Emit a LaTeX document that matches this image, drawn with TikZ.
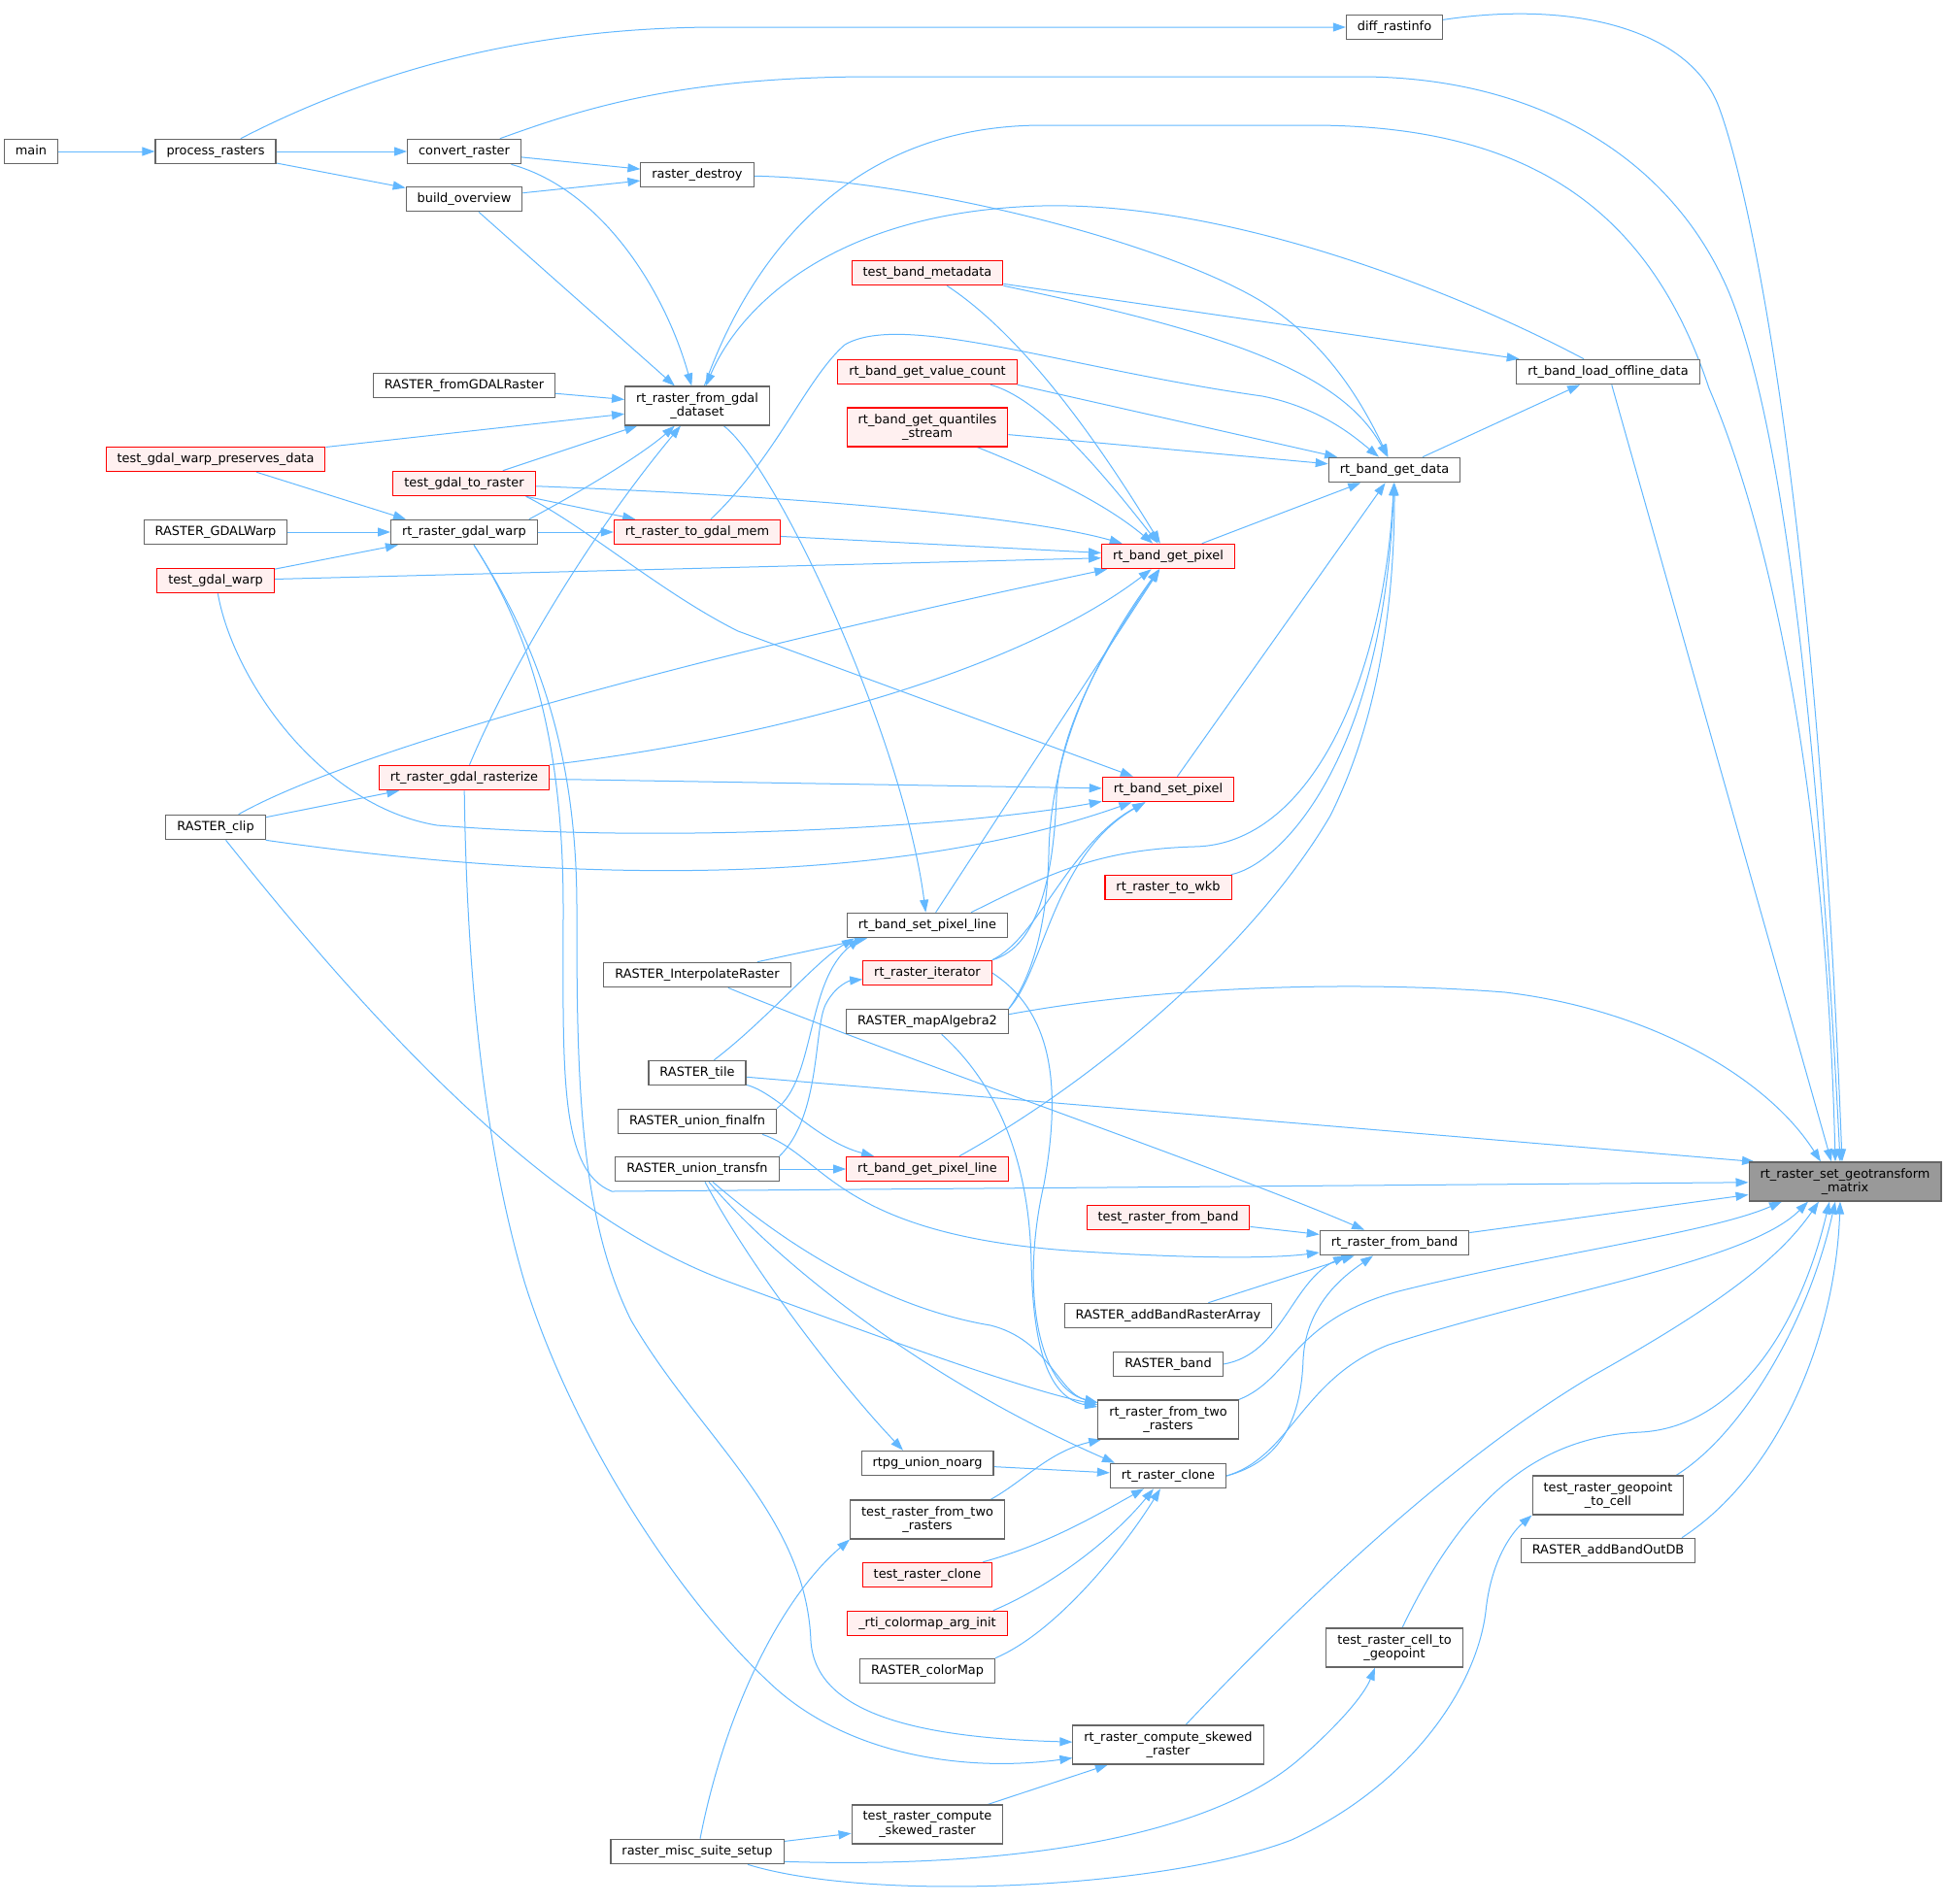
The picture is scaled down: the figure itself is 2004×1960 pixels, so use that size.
\documentclass[tikz,border=0pt]{standalone}
\usepackage{fontspec}
\newfontfamily\dvs{DejaVu Sans}
\usetikzlibrary{arrows.meta}
\pgfdeclarelayer{bg}
\pgfsetlayers{bg,main}
\definecolor{edgec}{HTML}{63B8FF}
\definecolor{bordc}{HTML}{666666}
\definecolor{redfill}{HTML}{FFF0F0}
\definecolor{tfill}{HTML}{999999}
\tikzset{
  box/.style={draw=bordc, fill=white, line width=1.1pt, inner xsep=11.5pt, inner ysep=0pt,
    font=\dvs\fontsize{12.9}{14.7}\selectfont},
  one/.style={box, minimum height=25.5pt, text height=9.8pt, text depth=3.4pt},
  two/.style={box, minimum height=40pt, align=center},
  hot/.style={draw=red, fill=redfill},
  tgt/.style={fill=tfill},
  e/.style={draw=edgec, line width=1pt, -{Triangle[length=13pt,width=9pt]}}
}
\begin{document}
\begin{tikzpicture}[x=1pt,y=-1pt]
\useasboundingbox (0,0) rectangle (2004,1960);
% nodes
\node[one] (main) at (32,156) {main};
\node[one] (pr) at (222,156) {process\_rasters};
\node[one] (diff) at (1436,28) {diff\_rastinfo};
\node[one] (conv) at (478,156) {convert\_raster};
\node[one] (bov) at (478,205) {build\_overview};
\node[one] (rdes) at (718,180) {raster\_destroy};
\node[one] (fromg) at (478,397) {RASTER\_fromGDALRaster};
\node[two] (fgd) at (718,418) {rt\_raster\_from\_gdal\\\_dataset};
\node[one,hot] (tgwpd) at (222,473) {test\_gdal\_warp\_preserves\_data};
\node[one,hot] (tgtr) at (478,498) {test\_gdal\_to\_raster};
\node[one] (gdw) at (222,548) {RASTER\_GDALWarp};
\node[one] (gwarp) at (478,548) {rt\_raster\_gdal\_warp};
\node[one,hot] (tgm) at (718,548) {rt\_raster\_to\_gdal\_mem};
\node[one,hot] (tgw) at (222,598) {test\_gdal\_warp};
\node[one,hot] (tbm) at (955,281) {test\_band\_metadata};
\node[one,hot] (gvc) at (955,383) {rt\_band\_get\_value\_count};
\node[two,hot] (gqs) at (955,440) {rt\_band\_get\_quantiles\\\_stream};
\node[one,hot] (gpix) at (1203,573) {rt\_band\_get\_pixel};
\node[one] (gdata) at (1436,484) {rt\_band\_get\_data};
\node[one] (lod) at (1656,383) {rt\_band\_load\_offline\_data};
\node[one,hot] (rast) at (478,801) {rt\_raster\_gdal\_rasterize};
\node[one] (clip) at (222,852) {RASTER\_clip};
\node[one] (interp) at (718,1004) {RASTER\_InterpolateRaster};
\node[one] (tile) at (718,1105) {RASTER\_tile};
\node[one] (ufin) at (718,1155) {RASTER\_union\_finalfn};
\node[one] (utra) at (718,1204) {RASTER\_union\_transfn};
\node[one,hot] (spix) at (1203,813) {rt\_band\_set\_pixel};
\node[one,hot] (wkb) at (1203,914) {rt\_raster\_to\_wkb};
\node[one] (spl) at (955,953) {rt\_band\_set\_pixel\_line};
\node[one,hot] (iter) at (955,1002) {rt\_raster\_iterator};
\node[one] (ma2) at (955,1052) {RASTER\_mapAlgebra2};
\node[one,hot] (gpl) at (955,1204) {rt\_band\_get\_pixel\_line};
\node[one,hot] (trfb) at (1203,1254) {test\_raster\_from\_band};
\node[two,tgt] (T) at (1900,1217) {rt\_raster\_set\_geotransform\\\_matrix};
\node[one] (fband) at (1436,1280) {rt\_raster\_from\_band};
\node[one] (abra) at (1203,1355) {RASTER\_addBandRasterArray};
\node[one] (rband) at (1203,1405) {RASTER\_band};
\node[two] (f2r) at (1203,1462) {rt\_raster\_from\_two\\\_rasters};
\node[one] (noarg) at (955,1507) {rtpg\_union\_noarg};
\node[one] (clone) at (1203,1520) {rt\_raster\_clone};
\node[two] (tf2r) at (955,1565) {test\_raster\_from\_two\\\_rasters};
\node[one,hot] (tclone) at (955,1622) {test\_raster\_clone};
\node[one,hot] (cmap) at (955,1672) {\_rti\_colormap\_arg\_init};
\node[one] (cmapr) at (955,1721) {RASTER\_colorMap};
\node[two] (skew) at (1203,1797) {rt\_raster\_compute\_skewed\\\_raster};
\node[two] (tskew) at (955,1879) {test\_raster\_compute\\\_skewed\_raster};
\node[one] (suite) at (718,1907) {raster\_misc\_suite\_setup};
\node[two] (tg2c) at (1656,1540) {test\_raster\_geopoint\\\_to\_cell};
\node[one] (aodb) at (1656,1597) {RASTER\_addBandOutDB};
\node[two] (tc2g) at (1436,1697) {test\_raster\_cell\_to\\\_geopoint};
% edges
\begin{pgfonlayer}{bg}
\draw[e] (main) -- (pr);
\draw[e] (pr) .. controls (360,85) and (520,28) .. (740,28) -- (diff);
\draw[e] (pr) -- (conv);
\draw[e] (pr) -- (bov);
\draw[e] (diff) .. controls (1620,0) and (1740,30) .. (1770,110) .. controls (1800,190) and (1870,500) .. ([xshift=-3pt]T.north);
\draw[e] (conv) .. controls (600,112) and (700,79) .. (900,79) -- (1400,79) .. controls (1580,79) and (1720,160) .. (1780,300) .. controls (1830,420) and (1870,700) .. ([xshift=-5pt]T.north);
\draw[e] (conv) -- (rdes);
\draw[e] (bov) -- (rdes);
\draw[e] (conv) .. controls (620,195) and (685,300) .. (fgd);
\draw[e] (bov) -- (fgd);
\draw[e] (rdes) .. controls (950,185) and (1200,250) .. (1300,311) .. controls (1370,355) and (1405,420) .. (gdata);
\draw[e] (fgd) .. controls (760,300) and (850,129) .. (1074,129) -- (1350,129) .. controls (1580,129) and (1700,220) .. (1760,400) .. controls (1820,540) and (1880,800) .. ([xshift=-10pt]T.north);
\draw[e] (fgd) .. controls (800,480) and (930,760) .. (spl);
\draw[e] (fromg) -- (fgd);
\draw[e] (tgwpd) -- (fgd);
\draw[e] (tgwpd) -- ([xshift=-60pt]gwarp.north);
\draw[e] (tgtr) -- (fgd);
\draw[e] (tgtr) -- (tgm);
\draw[e] (tgtr) .. controls (800,510) and (1050,530) .. (gpix);
\draw[e] ([xshift=-10pt]tgtr.south east) .. controls (600,540) and (680,610) .. (760,650) -- (spix);
\draw[e] (gdw) -- (gwarp);
\draw[e] ([xshift=-9pt]gwarp.north east) .. controls (610,500) and (665,465) .. (fgd);
\draw[e] (gwarp) -- (tgm);
\draw[e] ([xshift=10pt]gwarp.south) .. controls (545,650) and (580,760) .. (580,935) .. controls (580,1100) and (575,1205) .. (630,1227) -- (T);
\draw[e] ([xshift=10pt]gwarp.south) .. controls (545,650) and (594,760) .. (594,935) .. controls (594,1100) and (595,1250) .. (650,1360) .. controls (720,1480) and (830,1560) .. (835,1690) .. controls (840,1770) and (960,1790) .. (skew);
\draw[e] (tgw) -- (gwarp);
\draw[e] (tgw) -- (gpix);
\draw[e] (tgw) .. controls (240,700) and (330,830) .. (450,850) .. controls (700,870) and (1000,850) .. (spix);
\draw[e] (tgm) .. controls (800,470) and (830,390) .. (870,355) .. controls (930,320) and (1100,380) .. (1300,408) .. controls (1360,420) and (1395,450) .. (gdata);
\draw[e] (tgm) -- (gpix);
\draw[e] (rast) .. controls (520,700) and (600,560) .. (fgd);
\draw[e] (rast.north east) .. controls (800,760) and (1050,690) .. (gpix);
\draw[e] (rast) -- (spix);
\draw[e] (rast) .. controls (480,950) and (490,1150) .. (540,1320) .. controls (590,1480) and (700,1650) .. (800,1740) .. controls (880,1810) and (1000,1825) .. (skew);
\draw[e] (clip) -- (rast);
\draw[e] (clip) .. controls (350,780) and (650,690) .. (gpix);
\draw[e] (clip.south east) .. controls (550,905) and (900,920) .. (spix);
\draw[e] (clip) .. controls (380,1050) and (560,1250) .. (750,1320) .. controls (900,1375) and (1050,1430) .. (f2r);
\draw[e] (lod) .. controls (1500,300) and (1250,200) .. (1050,213) .. controls (850,225) and (760,320) .. (fgd);
\draw[e] (lod) -- ([xshift=-14pt]T.north);
\draw[e] (gdata) -- (lod);
\draw[e] (tbm) -- (lod);
\draw[e] (tbm.south east) .. controls (1250,340) and (1380,380) .. (gdata);
\draw[e] (tbm) .. controls (1060,350) and (1140,470) .. (gpix);
\draw[e] (gvc.south east) -- (gdata);
\draw[e] ([xshift=65pt]gvc.south) .. controls (1070,410) and (1130,480) .. (gpix);
\draw[e] (gqs) -- (gdata);
\draw[e] (gqs) .. controls (1080,490) and (1140,520) .. (gpix);
\draw[e] (gpix) -- (gdata);
\draw[e] (spix) -- (gdata);
\draw[e] (wkb) .. controls (1320,890) and (1425,780) .. (gdata);
\draw[e] ([xshift=-38pt]spl.north east) .. controls (1080,900) and (1130,875) .. (1230,872) .. controls (1350,870) and (1425,700) .. (gdata);
\draw[e] (spl) -- (gpix);
\draw[e] ([xshift=33pt]gpl.north) .. controls (1150,1100) and (1300,960) .. (1370,840) .. controls (1420,740) and (1436,620) .. (gdata);
\draw[e] (iter.north east) .. controls (1070,975) and (1085,900) .. (1088,820) .. controls (1092,740) and (1150,650) .. (gpix);
\draw[e] (iter.north east) .. controls (1070,965) and (1100,870) .. (spix);
\draw[e] (iter.east) .. controls (1080,1040) and (1095,1110) .. (1075,1220) .. controls (1050,1330) and (1070,1430) .. (f2r);
\draw[e] (ma2.north east) .. controls (1060,1010) and (1078,960) .. (1080,880) .. controls (1082,760) and (1140,660) .. (gpix);
\draw[e] (ma2.north east) .. controls (1075,1000) and (1085,880) .. (spix);
\draw[e] (ma2) .. controls (1030,1120) and (1060,1200) .. (1062,1300) .. controls (1064,1390) and (1080,1440) .. (f2r);
\draw[e] ([yshift=-6pt]ma2.north east) .. controls (1200,1015) and (1400,1010) .. (1550,1022) .. controls (1700,1040) and (1820,1110) .. ([xshift=-25pt]T.north);
\draw[e] (interp) -- (spl);
\draw[e] (interp) .. controls (900,1080) and (1250,1200) .. (fband);
\draw[e] (tile) .. controls (790,1050) and (840,990) .. ([xshift=8pt]spl.south west);
\draw[e] (tile) .. controls (800,1125) and (840,1175) .. ([xshift=-55pt]gpl.north);
\draw[e] (tile) -- ([xshift=-93pt]T.north);
\draw[e] (ufin.north east) .. controls (840,1110) and (830,1010) .. ([xshift=14pt]spl.south west);
\draw[e] ([xshift=-15pt]ufin.south east) .. controls (850,1190) and (860,1270) .. (1100,1288) .. controls (1250,1298) and (1320,1295) .. (fband);
\draw[e] (utra.north east) .. controls (845,1150) and (838,1060) .. (850,1035) .. controls (860,1015) and (875,1010) .. (iter);
\draw[e] (utra) -- (gpl);
\draw[e] ([xshift=8pt]utra.south) .. controls (770,1300) and (860,1420) .. ([xshift=-25pt]noarg.north);
\draw[e] ([xshift=12pt]utra.south) .. controls (800,1300) and (950,1420) .. ([xshift=-55pt]clone.north);
\draw[e] ([xshift=16pt]utra.south) .. controls (830,1300) and (930,1350) .. (1020,1365) .. controls (1080,1380) and (1090,1435) .. (f2r);
\draw[e] (trfb) -- (fband);
\draw[e] (fband) -- (T);
\draw[e] (abra) -- (fband);
\draw[e] (rband.east) .. controls (1320,1395) and (1330,1320) .. ([xshift=-50pt]fband.south);
\draw[e] (f2r.north east) .. controls (1330,1420) and (1330,1360) .. (1440,1330) .. controls (1600,1290) and (1760,1270) .. ([xshift=-65pt]T.south);
\draw[e] ([xshift=-15pt]tf2r.north east) .. controls (1055,1525) and (1080,1495) .. ([xshift=4pt]f2r.south west);
\draw[e] (noarg) -- (clone);
\draw[e] (clone.east) .. controls (1320,1505) and (1340,1460) .. (1342,1400) .. controls (1345,1340) and (1390,1310) .. ([xshift=-22pt]fband.south);
\draw[e] (clone.east) .. controls (1330,1500) and (1340,1420) .. (1430,1385) .. controls (1600,1330) and (1800,1300) .. ([xshift=-38pt]T.south);
\draw[e] ([xshift=-10pt]tclone.north east) .. controls (1080,1590) and (1130,1560) .. ([xshift=-25pt]clone.south);
\draw[e] ([xshift=-15pt]cmap.north east) .. controls (1090,1630) and (1150,1580) .. ([xshift=-15pt]clone.south);
\draw[e] (cmapr.north east) .. controls (1090,1680) and (1160,1590) .. ([xshift=-8pt]clone.south);
\draw[e] ([xshift=18pt]skew.north) .. controls (1350,1640) and (1500,1500) .. (1640,1417) .. controls (1760,1350) and (1830,1300) .. ([xshift=-27pt]T.south);
\draw[e] (tskew) -- (skew);
\draw[e] (suite) -- (tskew);
\draw[e] ([xshift=3pt]suite.north) .. controls (745,1770) and (800,1650) .. (tf2r.south west);
\draw[e] ([yshift=3pt]suite.south east) .. controls (1050,1925) and (1250,1890) .. (1340,1810) .. controls (1380,1775) and (1405,1745) .. ([xshift=-20pt]tc2g.south);
\draw[e] ([xshift=52pt]suite.south) .. controls (900,1960) and (1200,1945) .. (1330,1895) .. controls (1450,1840) and (1520,1740) .. (1530,1660) .. controls (1535,1610) and (1555,1580) .. (tg2c.south west);
\draw[e] ([xshift=8pt]tc2g.north) .. controls (1500,1560) and (1570,1480) .. (1690,1475) .. controls (1780,1470) and (1850,1380) .. ([xshift=-16pt]T.south);
\draw[e] ([xshift=70pt]tg2c.north) .. controls (1790,1480) and (1860,1370) .. ([xshift=-10pt]T.south);
\draw[e] ([xshift=76pt]aodb.north) .. controls (1830,1520) and (1890,1380) .. ([xshift=-5pt]T.south);
\end{pgfonlayer}
\end{tikzpicture}
\end{document}
